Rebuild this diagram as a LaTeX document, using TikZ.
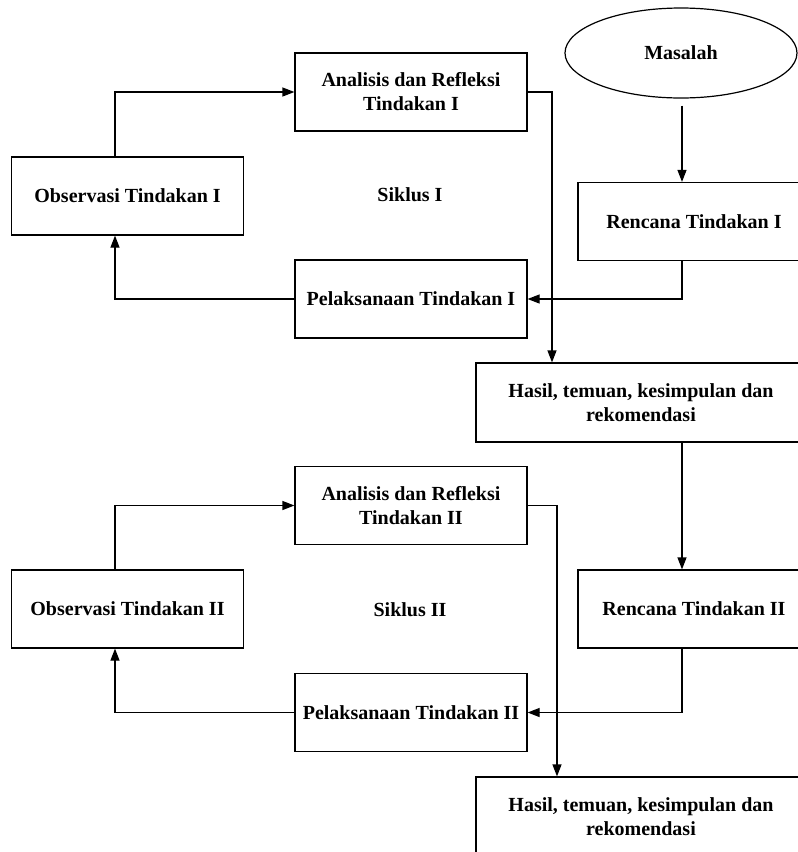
\documentclass[tikz,border=0pt]{standalone}
\usepackage{fontspec}
\setmainfont{Liberation Serif}
\usetikzlibrary{arrows.meta,positioning,calc,shapes.geometric}
\tikzset{
  cycBox/.style={draw, line width=0.6pt, minimum width=116pt, minimum height=39pt, align=center, inner sep=2pt, font=\bfseries\fontsize{10}{12}\selectfont},
  wideBox/.style={cycBox, minimum width=165pt, minimum height=39.5pt},
  cycArrow/.style={-{Triangle[length=6pt, width=4.5pt]}, line width=0.6pt},
  cycLabel/.style={font=\bfseries\fontsize{10}{12}\selectfont, align=center}
}

\begin{document}
\begin{tikzpicture}[x=0.5pt, y=-0.5pt]
  \clip (0,0) rectangle (798,852);
  \node[draw, ellipse, line width=0.6pt, minimum width=116pt, minimum height=45pt, cycLabel] (mas) at (681,53) {Masalah};
  % siklus I
  \node[cycBox] (ren1) at (694,221.5) {Rencana Tindakan I};
  \node[cycBox] (pel1) at (411,299) {Pelaksanaan Tindakan I};
  \node[cycBox] (obs1) at (127.5,196) {Observasi Tindakan I};
  \node[cycBox] (ana1) at (411,92) {Analisis dan Refleksi\\ Tindakan I};
  \node[cycLabel] (sik1) at (410,195) {Siklus I};
  \node[wideBox] (has1) at (641,402.5) {Hasil, temuan, kesimpulan dan\\ rekomendasi};
  % siklus II
  \node[cycBox] (ren2) at (694,609) {Rencana Tindakan II};
  \node[cycBox] (pel2) at (411,712.5) {Pelaksanaan Tindakan II};
  \node[cycBox] (obs2) at (127.5,609) {Observasi Tindakan II};
  \node[cycBox] (ana2) at (411,505.5) {Analisis dan Refleksi\\ Tindakan II};
  \node[cycLabel] (sik2) at (410,610) {Siklus II};
  \node[wideBox] (has2) at (641,816.5) {Hasil, temuan, kesimpulan dan\\ rekomendasi};
  \coordinate (spine) at (682,0);
  \coordinate (drop1) at (552,0);
  \coordinate (drop2) at (557,0);
  \coordinate (rise) at (115,0);
  \draw[cycArrow, shorten <=3.5pt] (mas.south -| spine) -- (spine |- ren1.north);
  \draw[cycArrow] (spine |- ren1.south) |- (pel1.east);
  \draw[cycArrow] (pel1.west) -| (rise |- obs1.south);
  \draw[cycArrow] (rise |- obs1.north) |- (ana1.west);
  \draw[cycArrow] (ana1.east) -| (drop1 |- has1.north);
  \draw[cycArrow] (spine |- has1.south) -- (spine |- ren2.north);
  \draw[cycArrow] (spine |- ren2.south) |- (pel2.east);
  \draw[cycArrow] (pel2.west) -| (rise |- obs2.south);
  \draw[cycArrow] (rise |- obs2.north) |- (ana2.west);
  \draw[cycArrow] (ana2.east) -| (drop2 |- has2.north);
\end{tikzpicture}
\end{document}
